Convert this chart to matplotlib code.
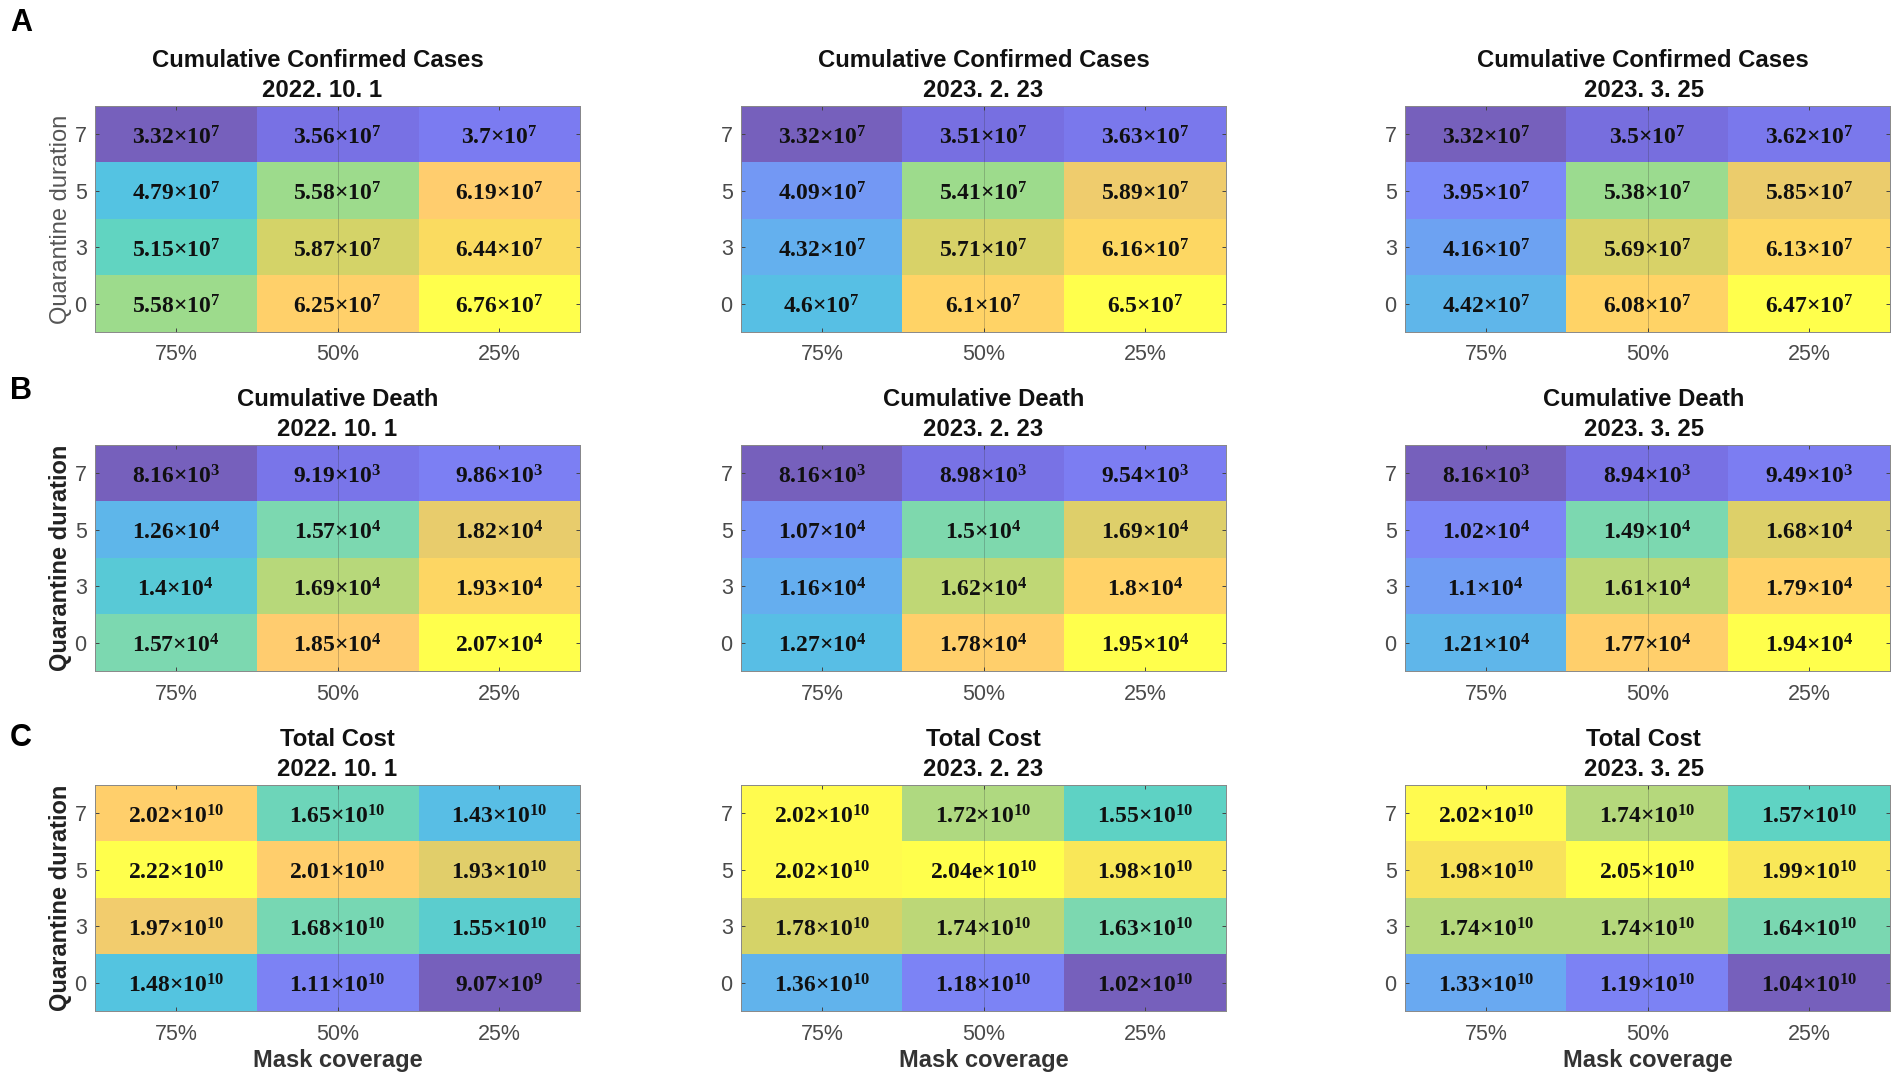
import numpy as np
import matplotlib
matplotlib.use('Agg')
import matplotlib.pyplot as plt
from matplotlib.colors import LinearSegmentedColormap, Normalize

plt.rcParams['font.family'] = ['Liberation Sans', 'DejaVu Sans']
plt.rcParams['mathtext.fontset'] = 'custom'
plt.rcParams['mathtext.bf'] = 'Liberation Serif:bold'
plt.rcParams['mathtext.rm'] = 'Liberation Serif:bold'
plt.rcParams['mathtext.it'] = 'Liberation Serif:bold'

W, H = 1902, 1081

mask_labels = ['75%', '50%', '25%']
quarantine_labels = ['7', '5', '3', '0']
dates = ['2022. 10. 1', '2023. 2. 23', '2023. 3. 25']
titles = ['Cumulative Confirmed Cases', 'Cumulative Death', 'Total Cost']

cases_1 = [[3.32e7, 3.56e7, 3.7e7], [4.79e7, 5.58e7, 6.19e7], [5.15e7, 5.87e7, 6.44e7], [5.58e7, 6.25e7, 6.76e7]]
cases_2 = [[3.32e7, 3.51e7, 3.63e7], [4.09e7, 5.41e7, 5.89e7], [4.32e7, 5.71e7, 6.16e7], [4.6e7, 6.1e7, 6.5e7]]
cases_3 = [[3.32e7, 3.5e7, 3.62e7], [3.95e7, 5.38e7, 5.85e7], [4.16e7, 5.69e7, 6.13e7], [4.42e7, 6.08e7, 6.47e7]]
death_1 = [[8.16e3, 9.19e3, 9.86e3], [1.26e4, 1.57e4, 1.82e4], [1.4e4, 1.69e4, 1.93e4], [1.57e4, 1.85e4, 2.07e4]]
death_2 = [[8.16e3, 8.98e3, 9.54e3], [1.07e4, 1.5e4, 1.69e4], [1.16e4, 1.62e4, 1.8e4], [1.27e4, 1.78e4, 1.95e4]]
death_3 = [[8.16e3, 8.94e3, 9.49e3], [1.02e4, 1.49e4, 1.68e4], [1.1e4, 1.61e4, 1.79e4], [1.21e4, 1.77e4, 1.94e4]]
cost_1 = [[2.02e10, 1.65e10, 1.43e10], [2.22e10, 2.01e10, 1.93e10], [1.97e10, 1.68e10, 1.55e10], [1.48e10, 1.11e10, 9.07e9]]
cost_2 = [[2.02e10, 1.72e10, 1.55e10], [2.02e10, 2.04e10, 1.98e10], [1.78e10, 1.74e10, 1.63e10], [1.36e10, 1.18e10, 1.02e10]]
cost_3 = [[2.02e10, 1.74e10, 1.57e10], [1.98e10, 2.05e10, 1.99e10], [1.74e10, 1.74e10, 1.64e10], [1.33e10, 1.19e10, 1.04e10]]

panels = [[cases_1, cases_2, cases_3], [death_1, death_2, death_3], [cost_1, cost_2, cost_3]]

cmap = LinearSegmentedColormap.from_list('soft_parula', [
    (0.00, '#7660BC'), (0.06, '#7870E2'), (0.11, '#7C7CF2'), (0.20, '#7C8AF8'), (0.30, '#66AEF0'),
    (0.43, '#54C4E2'), (0.53, '#60D4C2'), (0.60, '#7CD8B0'), (0.66, '#9EDC8C'),
    (0.74, '#D4D468'), (0.80, '#E8CC6C'), (0.825, '#FFCC70'), (0.88, '#FFD466'), (0.93, '#F8E05C'),
    (0.97, '#FFFA50'), (1.00, '#FFFF4C')])


def cell_text(v, row, col, panel):
    if panel == (2, 1) and (row, col) == (1, 1):
        return r'$\mathbf{2.04e{\times}10^{10}}$'
    exp = int(np.floor(np.log10(v)))
    man = f'{v / 10**exp:.3g}'
    return r'$\mathbf{' + man + r'{\times}10^{' + str(exp) + r'}}$'


x_left = [95, 741, 1405]
ax_w = 485
y_top = [106, 445, 785]
ax_h = 226
letter_y = [23, 391, 738]
letters = ['A', 'B', 'C']
title_shift = [[-20, 0, -5], [0, 0, -4], [0, 0, -4]]
date_shift = [[-15, 0, -3], [0, 0, -3], [0, 0, -3]]

fig = plt.figure(figsize=(W / 100, H / 100), dpi=100, facecolor='white')
grey = '#4a4a4a'

for r in range(3):
    fig.text(10 / W, 1 - letter_y[r] / H, letters[r], fontsize=22, fontweight='bold',
             color='black', ha='left', va='center')
    for c in range(3):
        top, left = y_top[r], x_left[c]
        ax = fig.add_axes([left / W, 1 - (top + ax_h) / H, ax_w / W, ax_h / H])
        vals = np.array(panels[r][c])
        ax.imshow(vals, cmap=cmap, norm=Normalize(vals.min(), vals.max()),
                  aspect='auto', interpolation='nearest')
        ax.axvline(1, color='#333333', lw=0.7, alpha=0.25)
        for i in range(4):
            for j in range(3):
                ax.text(j, i + 0.06, cell_text(vals[i, j], i, j, (r, c)), ha='center', va='center',
                        fontsize=17, color='#101010')
        ax.set_xticks(range(3), mask_labels)
        ax.set_yticks(range(4), quarantine_labels)
        ax.tick_params(axis='both', direction='in', length=3, width=0.7, color='#444444',
                       labelcolor=grey, labelsize=15.5, top=True, right=True, pad=9)
        ax.tick_params(axis='y', pad=6)
        for s in ax.spines.values():
            s.set_color('#888888')
            s.set_linewidth(0.7)
        cx = left + ax_w / 2
        fig.text((cx + title_shift[r][c]) / W, 1 - (top - 39) / H, titles[r], fontsize=17.2,
                 fontweight='bold', color='#111111', ha='center', va='baseline')
        fig.text((cx + date_shift[r][c]) / W, 1 - (top - 9) / H, dates[c], fontsize=17.2,
                 fontweight='bold', color='#111111', ha='center', va='baseline')
        if c == 0:
            if r == 0:
                ax.set_ylabel('Quarantine duration', fontsize=17, color='#555555', labelpad=2)
            else:
                ax.set_ylabel('Quarantine duration', fontsize=17, fontweight='bold',
                              color='#222222', labelpad=2)
        if r == 2:
            ax.set_xlabel('Mask coverage', fontsize=17, fontweight='bold', color='#333333', labelpad=3)

fig.savefig('out.png', dpi=100, facecolor='white')
